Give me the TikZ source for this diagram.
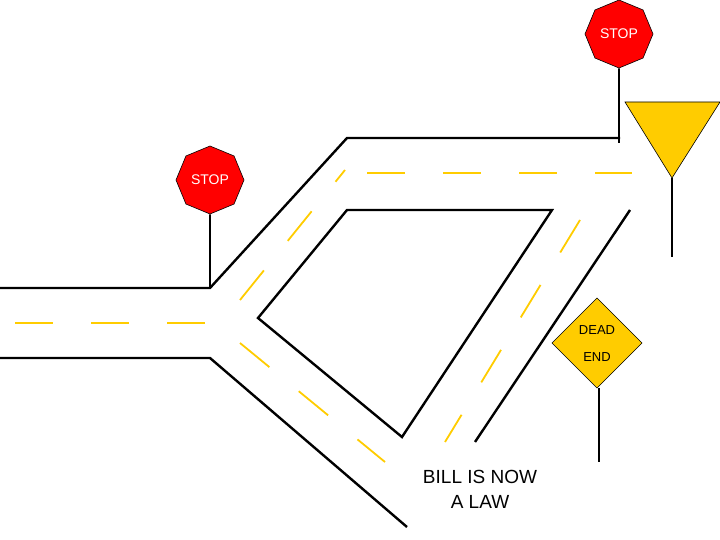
\documentclass[tikz,border=0pt]{standalone}
\usepackage{fontspec}
\setmainfont{Liberation Sans}
\usetikzlibrary{shapes.geometric}
\definecolor{stopred}{RGB}{255,0,0}
\definecolor{signyel}{RGB}{255,204,0}
\tikzset{
  edge/.style={line width=2.4pt,black},
  lane/.style={line width=1.8pt,signyel,dash pattern=on 38pt off 38pt},
  pole/.style={line width=1.8pt,black},
  stopsign/.style={regular polygon,regular polygon sides=8,shape border rotate=22.5,fill=stopred,draw=black,line width=0.6pt,minimum size=68pt,inner sep=0pt,text=white,font=\fontsize{14}{16}\selectfont}
}
\begin{document}
\begin{tikzpicture}[x=1pt,y=-1pt]
\useasboundingbox (0,0) rectangle (720,540);
% road edges
\coordinate (a1) at (0,288); \coordinate (a2) at (210,288); \coordinate (a3) at (347,138); \coordinate (a4) at (620,138);
\draw[edge] (a1) -- (a2) -- (a3) -- (a4);
\coordinate (b1) at (0,358); \coordinate (b2) at (210,358); \coordinate (b3) at (407,527);
\draw[edge] (b1) -- (b2) -- (b3);
\coordinate (q1) at (347,210); \coordinate (q2) at (552,210); \coordinate (q3) at (402,437); \coordinate (q4) at (258,318);
\draw[edge] (q1) -- (q2) -- (q3) -- (q4) -- cycle;
\coordinate (r1) at (630,210); \coordinate (r2) at (475,442);
\draw[edge] (r1) -- (r2);
% lane dashes
\coordinate (l1) at (15,323); \coordinate (l2) at (212,323);
\draw[lane] (l1) -- (l2);
\coordinate (d1) at (240,300); \coordinate (d2) at (345,170);
\draw[lane] (d1) -- (d2);
\coordinate (t1) at (367,173); \coordinate (t2) at (632,173);
\draw[lane] (t1) -- (t2);
\coordinate (e1) at (240,343); \coordinate (e2) at (385,462);
\draw[lane] (e1) -- (e2);
\coordinate (f1) at (580,220); \coordinate (f2) at (445,442);
\draw[lane] (f1) -- (f2);
% stop signs
\coordinate (p1) at (619,143); \coordinate (p2) at (210,288);
\node[stopsign] (s1) at (619,34) {STOP};
\draw[pole] (s1.south) -- (p1);
\node[stopsign] (s2) at (210,180) {STOP};
\draw[pole] (s2.south) -- (p2);
% yield
\coordinate (y1) at (625,102); \coordinate (y2) at (720,102); \coordinate (y3) at (672,178); \coordinate (y4) at (672,257);
\draw[fill=signyel,draw=black,line width=0.6pt] (y1) -- (y2) -- (y3) -- cycle;
\draw[pole] (y3) -- (y4);
% dead end
\draw[fill=signyel,draw=black,line width=0.6pt] (597,298) -- (642,343) -- (597,388) -- (552,343) -- cycle;
\node[font=\fontsize{13}{15}\selectfont] (dt1) at (597,330) {DEAD};
\node[font=\fontsize{13}{15}\selectfont] (dt2) at (597,357) {END};
\coordinate (dp1) at (599,388); \coordinate (dp2) at (599,462);
\draw[pole] (dp1) -- (dp2);
% text
\node[align=center,font=\fontsize{19}{25}\selectfont] (bill) at (480,489) {BILL IS NOW\\A LAW};
\end{tikzpicture}
\end{document}
